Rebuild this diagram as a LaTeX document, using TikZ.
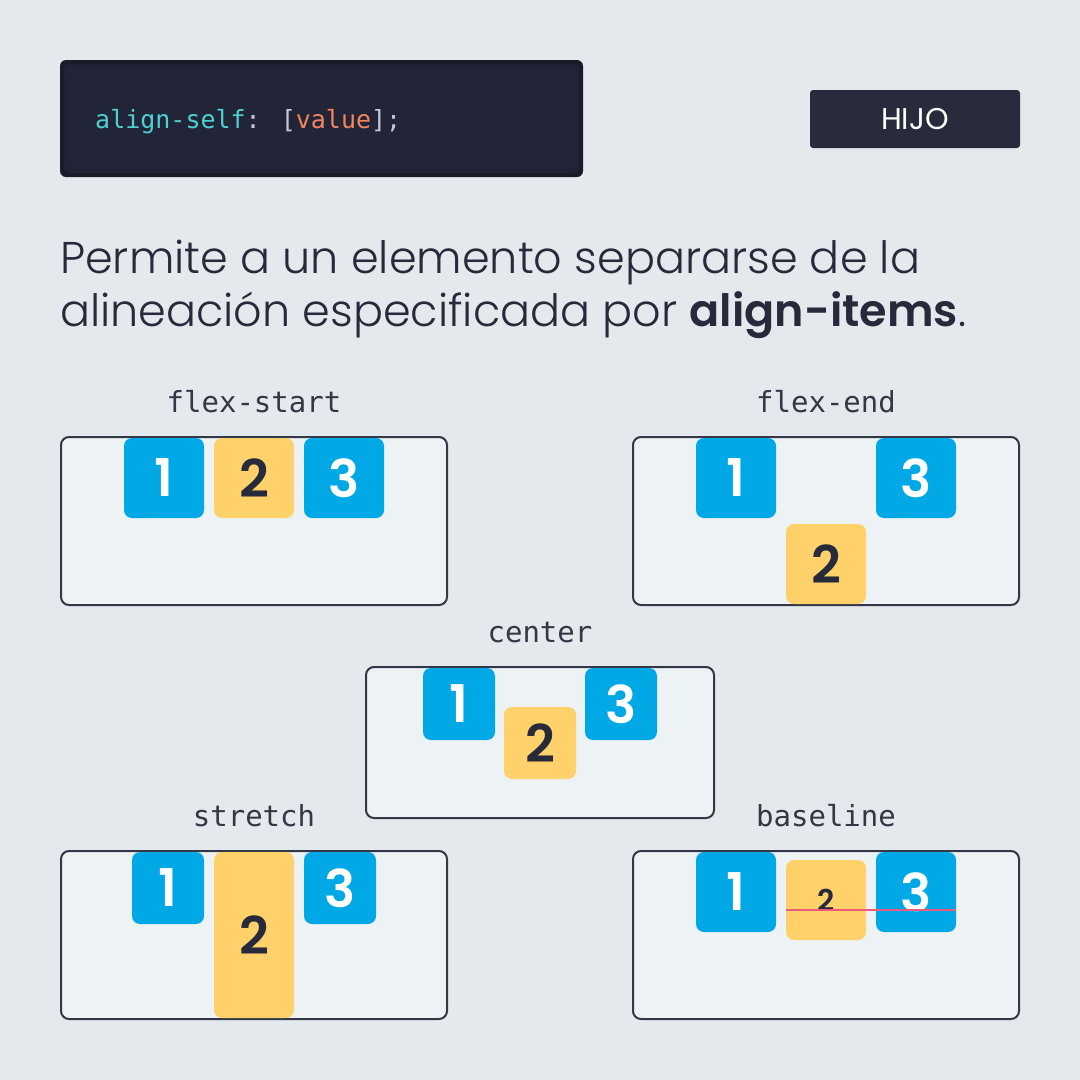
\documentclass[tikz,border=0pt]{standalone}
\usepackage{fontspec}
\setmainfont{Poppins}
\newfontfamily\bodyfont{Poppins}[UprightFont={* Light},BoldFont={* SemiBold}]
\newfontfamily\popp{Poppins}[BoldFont={* SemiBold}]
\newfontfamily\monofont{DejaVu Sans Mono}
\definecolor{bg}{HTML}{E4E9ED}
\definecolor{contfill}{HTML}{EDF2F5}
\definecolor{contline}{HTML}{343746}
\definecolor{itemblue}{HTML}{00A8E6}
\definecolor{itemyellow}{HTML}{FFD16A}
\definecolor{ink}{HTML}{262A3A}
\definecolor{pinkline}{HTML}{EC5A7C}
\definecolor{hijofill}{HTML}{282B3B}
\definecolor{codeedge}{HTML}{191B29}
\definecolor{codefill}{HTML}{222538}
\definecolor{codecyan}{HTML}{4DD0D0}
\definecolor{codesalmon}{HTML}{F4845F}
\definecolor{codegray}{HTML}{C5CAD8}
\begin{document}
\begin{tikzpicture}[x=1pt,y=-1pt,
  cont/.style={draw=contline,fill=contfill,line width=2pt,rounded corners=8pt,
    minimum width=386pt,minimum height=168pt,inner sep=0pt},
  bitem/.style={fill=itemblue,text=white,rounded corners=8pt,minimum width=80pt,
    minimum height=80pt,inner sep=0pt,font=\popp\bfseries\fontsize{52}{52}\selectfont},
  yitem/.style={bitem,fill=itemyellow,text=ink},
  lbl/.style={anchor=base,text=contline,font=\monofont\fontsize{29}{29}\selectfont},
]
\useasboundingbox (0,0) rectangle (1080,1080);
\fill[bg] (0,0) rectangle (1080,1080);

% code box
\node[fill=codeedge,rounded corners=6pt,minimum width=523pt,minimum height=117pt,inner sep=0pt] (code) at (321.5,118.5) {};
\fill[codefill!80!codeedge,rounded corners=5pt] (64,64) rectangle (579,173);
\fill[codefill,rounded corners=5pt] (68,68) rectangle (575,169);
\node[anchor=base west,inner sep=0pt,font=\monofont\fontsize{25}{25}\selectfont] (codetext) at (95,128)
  {\textcolor{codecyan}{align-self}\textcolor{codegray}{: [}\textcolor{codesalmon}{value}\textcolor{codegray}{];}};

% HIJO
\node[fill=hijofill,rounded corners=3pt,minimum width=210pt,minimum height=58pt,inner sep=0pt,
  text=white,font=\popp\fontsize{30}{30}\selectfont] (hijo) at (915,119) {HIJO};

% description
\node[anchor=base west,inner sep=0pt,text=ink,font=\bodyfont\fontsize{44.5}{44.5}\selectfont] (desc1) at (60,273)
  {Permite a un elemento separarse de la};
\node[anchor=base west,inner sep=0pt,text=ink,font=\bodyfont\fontsize{44.5}{44.5}\selectfont] (desc2) at (60,326)
  {alineación especificada por \textbf{align-items}.};

% flex-start
\node[lbl] (l1) at (254,412) {flex-start};
\node[cont] (c1) at (254,521) {};
\node[bitem] (a1) at (164,478) {1};
\node[yitem] (a2) at (254,478) {2};
\node[bitem] (a3) at (344,478) {3};

% flex-end
\node[lbl] (l2) at (826,412) {flex-end};
\node[cont] (c2) at (826,521) {};
\node[bitem] (b1) at (736,478) {1};
\node[yitem] (b2) at (826,564) {2};
\node[bitem] (b3) at (916,478) {3};

% center
\node[lbl] (l3) at (540,642) {center};
\node[cont,minimum width=348pt,minimum height=151pt] (c3) at (540,742.5) {};
\node[bitem,minimum width=72pt,minimum height=72pt] (d1) at (459,704) {1};
\node[yitem,minimum width=72pt,minimum height=72pt] (d2) at (540,743) {2};
\node[bitem,minimum width=72pt,minimum height=72pt] (d3) at (621,704) {3};

% stretch
\node[lbl] (l4) at (254,826) {stretch};
\node[cont] (c4) at (254,935) {};
\node[bitem,minimum width=72pt,minimum height=72pt] (e1) at (168,888) {1};
\node[yitem,minimum height=166pt] (e2) at (254,935) {2};
\node[bitem,minimum width=72pt,minimum height=72pt] (e3) at (340,888) {3};

% baseline
\node[lbl] (l5) at (826,826) {baseline};
\node[cont] (c5) at (826,935) {};
\node[bitem] (f1) at (736,892) {1};
\node[yitem,font=\popp\bfseries\fontsize{30}{30}\selectfont] (f2) at (826,900) {2};
\node[bitem] (f3) at (916,892) {3};
\draw[pinkline,line width=2.2pt] (f2.west |- 0,910) -- (f3.east |- 0,910);
\end{tikzpicture}
\end{document}
